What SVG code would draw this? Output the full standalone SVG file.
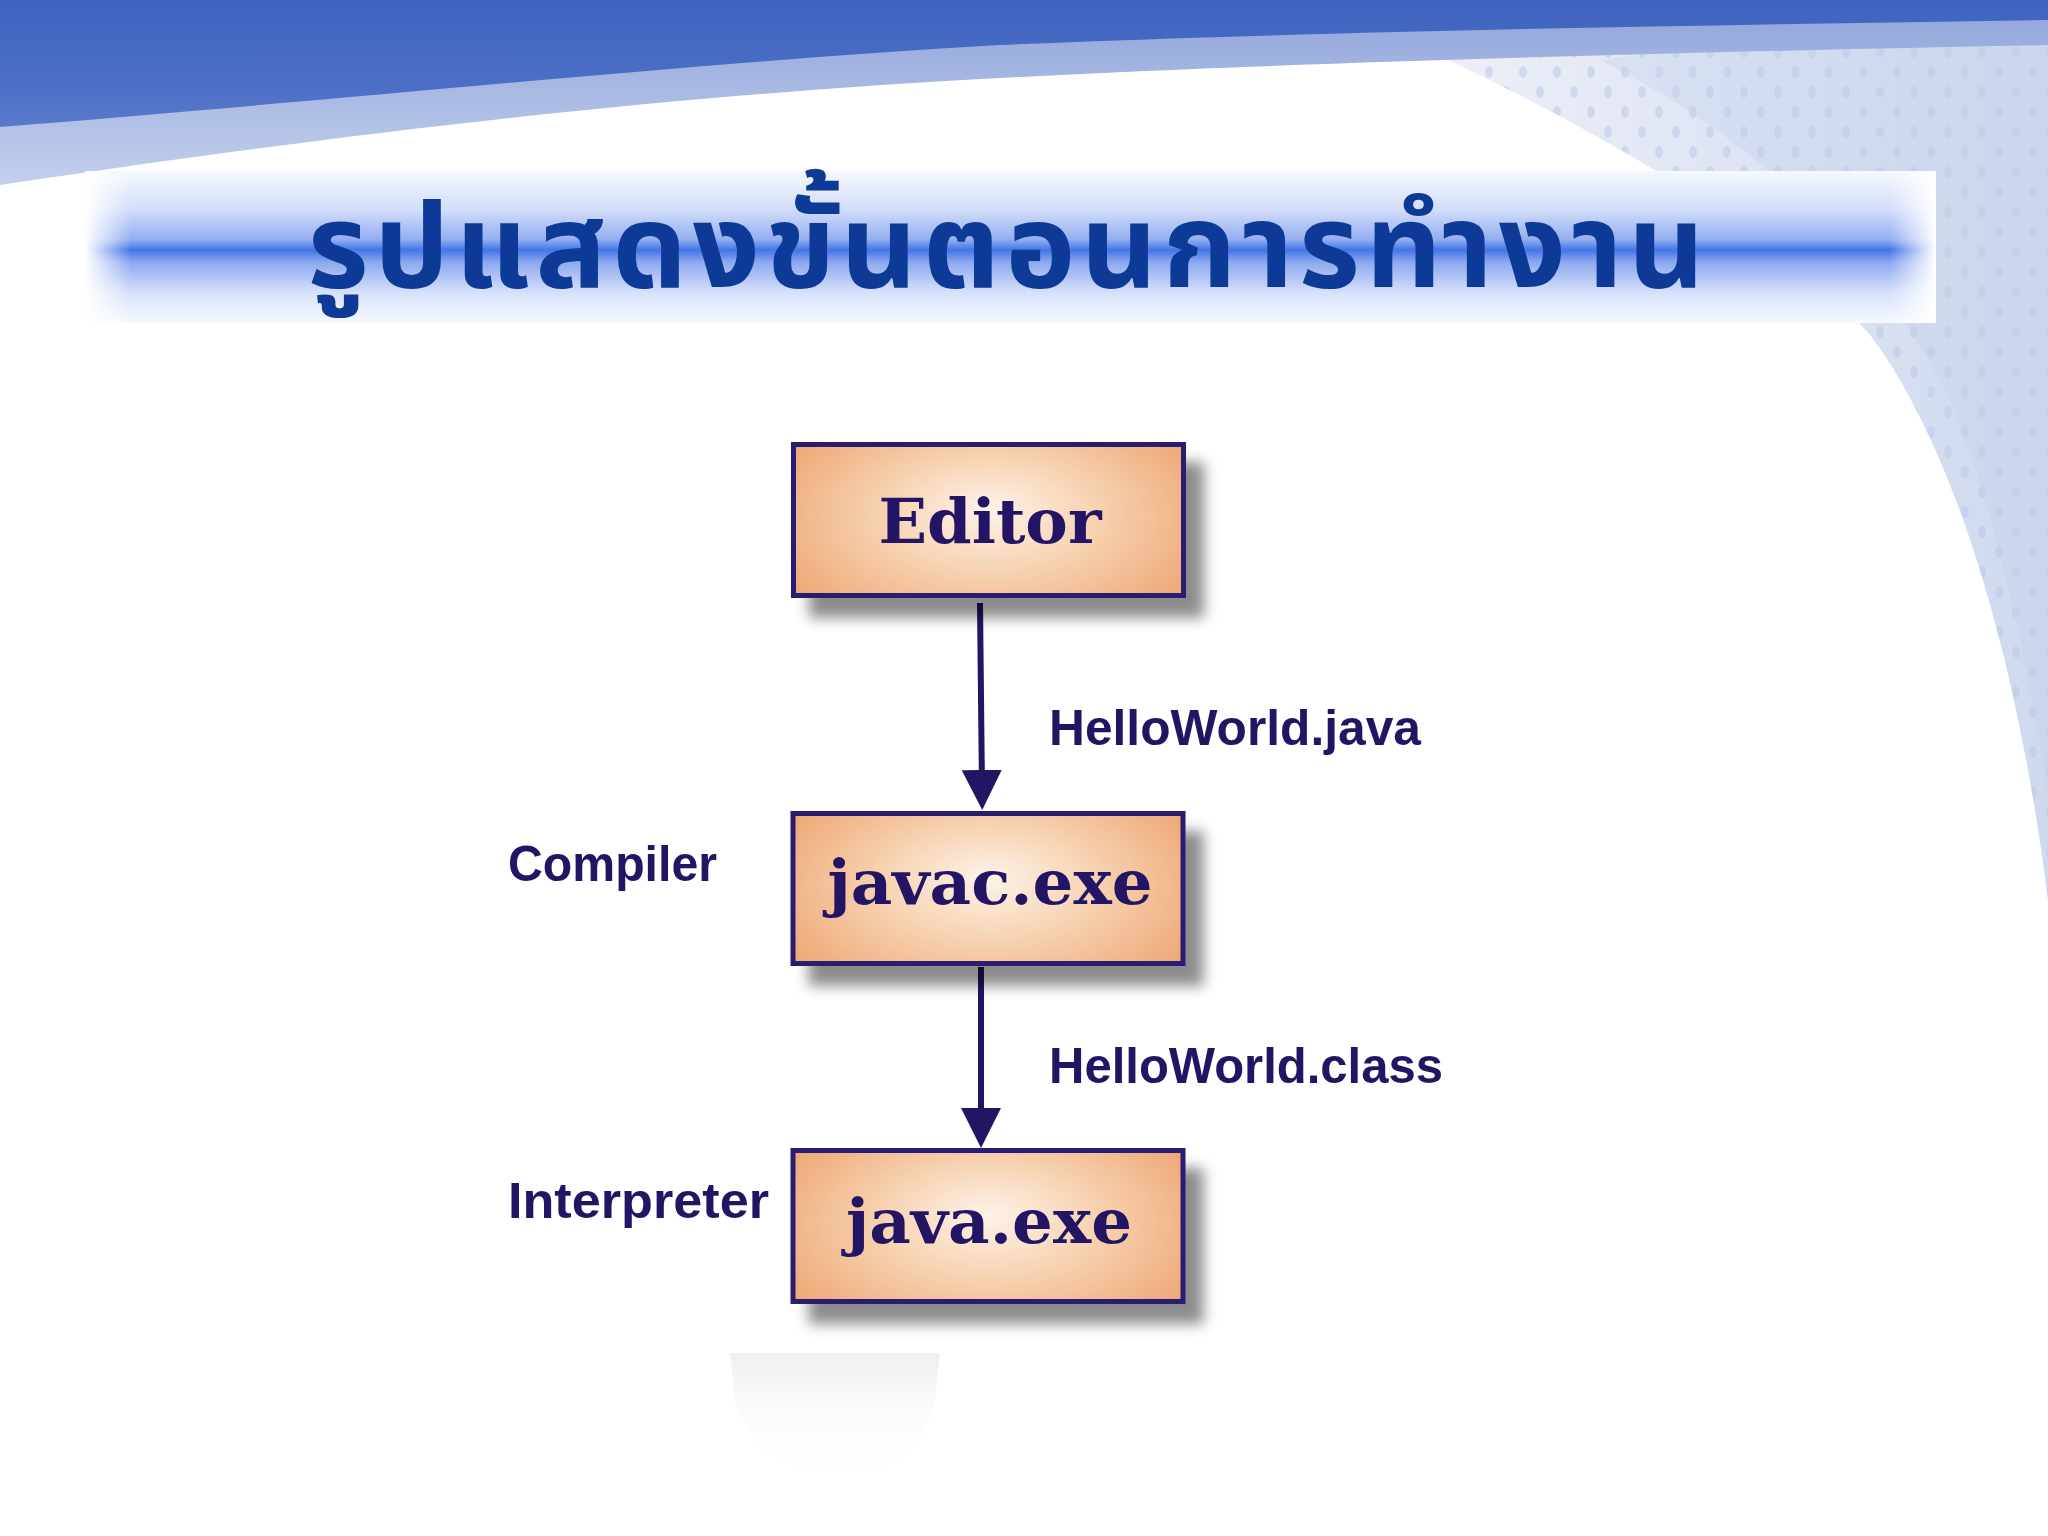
<svg xmlns="http://www.w3.org/2000/svg" width="2048" height="1536" viewBox="0 0 2048 1536">
  <defs>
    <style>
      .box { stroke: #2b1b70; stroke-width: 5; fill: url(#boxFill); filter: url(#shadow); }
      .boxtext { font-family: "DejaVu Serif", "Liberation Serif", serif; font-weight: bold; font-size: 62px; fill: #231563; text-anchor: middle; }
      .label { font-family: "Liberation Sans", Arial, sans-serif; font-weight: bold; font-size: 50px; fill: #231563; }
      .conn { stroke: #231563; stroke-width: 6; fill: none; marker-end: url(#arrow); }
    </style>
    <linearGradient id="topBand" x1="0" y1="0" x2="0" y2="1">
      <stop offset="0" stop-color="#3f63bf"/>
      <stop offset="0.7" stop-color="#4d6fc6"/>
      <stop offset="1" stop-color="#5a7acb"/>
    </linearGradient>
    <linearGradient id="lightBand" x1="0" y1="0" x2="0" y2="1">
      <stop offset="0" stop-color="#8ea4da"/>
      <stop offset="1" stop-color="#c3cfec"/>
    </linearGradient>
    <linearGradient id="rightSide" x1="0" y1="0" x2="1" y2="0">
      <stop offset="0" stop-color="#eef1f8"/>
      <stop offset="0.5" stop-color="#dfe5f3"/>
      <stop offset="1" stop-color="#cfd9ee"/>
    </linearGradient>
    <pattern id="dots" width="34" height="40" patternUnits="userSpaceOnUse">
      <ellipse cx="10" cy="12" rx="4" ry="6" fill="#b7c5e6" opacity="0.5"/>
      <ellipse cx="27" cy="32" rx="4" ry="6" fill="#b7c5e6" opacity="0.5"/>
    </pattern>
    <linearGradient id="bannerV" x1="0" y1="0" x2="0" y2="1">
      <stop offset="0" stop-color="#f6f8fe"/>
      <stop offset="0.25" stop-color="#d3defa"/>
      <stop offset="0.45" stop-color="#94aef1"/>
      <stop offset="0.52" stop-color="#4475e6"/>
      <stop offset="0.6" stop-color="#8ca8ef"/>
      <stop offset="0.8" stop-color="#d6e1fa"/>
      <stop offset="1" stop-color="#f7f9fe"/>
    </linearGradient>
    <linearGradient id="bannerH" x1="0" y1="0" x2="1" y2="0">
      <stop offset="0" stop-color="#ffffff" stop-opacity="1"/>
      <stop offset="0.025" stop-color="#ffffff" stop-opacity="0"/>
      <stop offset="0.975" stop-color="#ffffff" stop-opacity="0"/>
      <stop offset="1" stop-color="#ffffff" stop-opacity="1"/>
    </linearGradient>
    <radialGradient id="boxFill" cx="0.5" cy="0.5" r="0.6" fx="0.5" fy="0.45" gradientTransform="translate(0.5 0.5) scale(1 1.4) translate(-0.5 -0.5)">
      <stop offset="0" stop-color="#fdf3ea"/>
      <stop offset="0.45" stop-color="#f7d3b2"/>
      <stop offset="1" stop-color="#eea876"/>
    </radialGradient>
    <linearGradient id="faint" x1="0" y1="0" x2="0" y2="1">
      <stop offset="0" stop-color="#dcdce2" stop-opacity="0.45"/>
      <stop offset="1" stop-color="#ffffff" stop-opacity="0"/>
    </linearGradient>
    <filter id="shadow" x="-10%" y="-20%" width="130%" height="160%">
      <feDropShadow dx="18" dy="20" stdDeviation="7" flood-color="#000000" flood-opacity="0.45"/>
    </filter>
    <marker id="arrow" viewBox="0 0 40 40" refX="20" refY="20" markerWidth="40" markerHeight="40" markerUnits="userSpaceOnUse" orient="auto">
      <path d="M0,0 L40,20 L0,40 Z" fill="#231563"/>
    </marker>
  </defs>

  <!-- background -->
  <rect x="0" y="0" width="2048" height="1536" fill="#ffffff"/>
  <path d="M1405,40 C1560,110 1780,230 1870,335 C1935,420 2010,600 2048,900 L2048,0 L1405,0 Z" fill="url(#rightSide)"/>
  <path d="M1405,40 C1560,110 1780,230 1870,335 C1935,420 2010,600 2048,900 L2048,0 L1405,0 Z" fill="url(#dots)"/>
  <path d="M1600,60 C1760,140 1880,260 1950,400 C2000,520 2035,700 2048,800 L2048,0 Z" fill="#c4d1ec" opacity="0.35"/>
  <path d="M0,0 H2048 V45 C1700,52 1300,62 1000,78 C700,94 400,125 0,185 Z" fill="url(#lightBand)"/>
  <path d="M0,0 H2048 V20 C1700,25 1300,32 1000,45 C700,62 400,95 0,127 Z" fill="url(#topBand)"/>
  <path d="M730,1353 H940 L935,1400 C920,1460 880,1480 840,1480 C790,1480 750,1450 735,1400 Z" fill="url(#faint)"/>

  <!-- title banner -->
  <g id="title">
    <rect x="85" y="171" width="1851" height="152" fill="url(#bannerV)"/>
    <rect x="85" y="171" width="1851" height="152" fill="url(#bannerH)"/>
    <text x="1006" y="287" font-family="'Noto Sans Thai', 'Noto Sans', 'DejaVu Sans', sans-serif" font-weight="bold" font-size="118" fill="#0c3a96" text-anchor="middle" textLength="1397" lengthAdjust="spacing">รูปแสดงขั้นตอนการทำงาน</text>
  </g>

  <!-- diagram panel -->
  <rect x="507" y="431" width="936" height="922" fill="#ffffff"/>

  <g id="connectors">
    <path class="conn" d="M980,603 L982,790"/>
    <path class="conn" d="M981,967 L981,1128"/>
  </g>

  <g id="editor">
    <rect class="box" x="793.5" y="444.5" width="390" height="151"/>
    <text class="boxtext" x="990" y="543" textLength="223" lengthAdjust="spacingAndGlyphs">Editor</text>
  </g>
  <g id="javac">
    <rect class="box" x="793" y="813.5" width="390" height="150"/>
    <text class="boxtext" x="990" y="904" textLength="325" lengthAdjust="spacingAndGlyphs">javac.exe</text>
  </g>
  <g id="java">
    <rect class="box" x="793" y="1150.5" width="390" height="151"/>
    <text class="boxtext" x="989" y="1243" textLength="286" lengthAdjust="spacingAndGlyphs">java.exe</text>
  </g>

  <g id="labels">
    <text class="label" x="1049" y="745" textLength="372" lengthAdjust="spacingAndGlyphs">HelloWorld.java</text>
    <text class="label" x="1049" y="1083" textLength="394" lengthAdjust="spacingAndGlyphs">HelloWorld.class</text>
    <text class="label" x="508" y="881" textLength="209" lengthAdjust="spacingAndGlyphs">Compiler</text>
    <text class="label" x="508" y="1218" textLength="261" lengthAdjust="spacingAndGlyphs">Interpreter</text>
  </g>
</svg>
